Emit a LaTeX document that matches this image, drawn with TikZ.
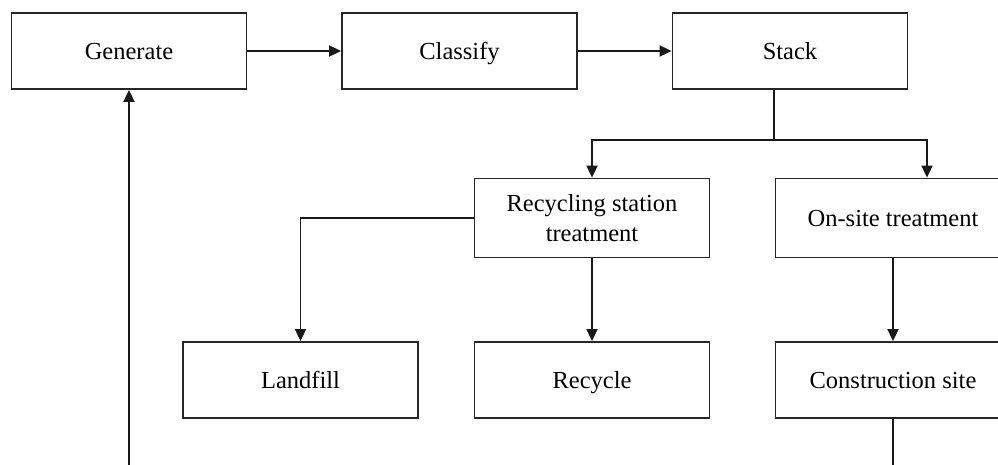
\documentclass[tikz,border=0pt]{standalone}
\usepackage{fontspec}
\setmainfont{Liberation Serif}
\usetikzlibrary{arrows.meta,calc}
\begin{document}
\begin{tikzpicture}[x=1pt,y=-1pt,
  box/.style={draw=black!85,line width=1.8pt,minimum width=235pt,minimum height=76pt,inner sep=0pt,align=center,font=\fontsize{24.5}{30}\selectfont},
  one/.style={box,text height=17pt,text depth=0pt},
  arr/.style={line width=1.8pt,draw=black!90,-{Triangle[length=12pt,width=11pt]}},
  ln/.style={line width=1.8pt,draw=black!90}]
\useasboundingbox (0,0) rectangle (998,464);
\clip (0,0) rectangle (998,464);
\fill[white] (0,0) rectangle (998,464);
\node[one] (gen) at (129,51) {Generate};
\node[one] (cls) at (459.5,51) {Classify};
\node[one] (stk) at (790,51) {Stack};
\node[box,minimum height=79pt] (rst) at (592,218) {Recycling station\\treatment};
\node[one,minimum height=79pt] (ons) at (893,218) {On-site treatment};
\node[one] (lfl) at (300.5,380) {Landfill};
\node[one] (rcy) at (592,380) {Recycle};
\node[one] (con) at (893,380) {Construction site};
\coordinate (split) at (774,140);
\coordinate (gbot) at (129,470);
\coordinate (cbot) at (893,470);
\draw[arr] (gen) -- (cls);
\draw[arr] (cls) -- (stk);
\draw[ln] (stk.south -| split) -- (split);
\draw[arr] (split) -| (rst.north);
\draw[arr] (split) -| ([xshift=34pt]ons.north);
\draw[arr] (rst.west) -| (lfl.north);
\draw[arr] (rst) -- (rcy);
\draw[arr] (ons) -- (con);
\draw[ln] (con.south) -- (cbot);
\draw[arr] (gbot) -- (gen.south);
\end{tikzpicture}
\end{document}
